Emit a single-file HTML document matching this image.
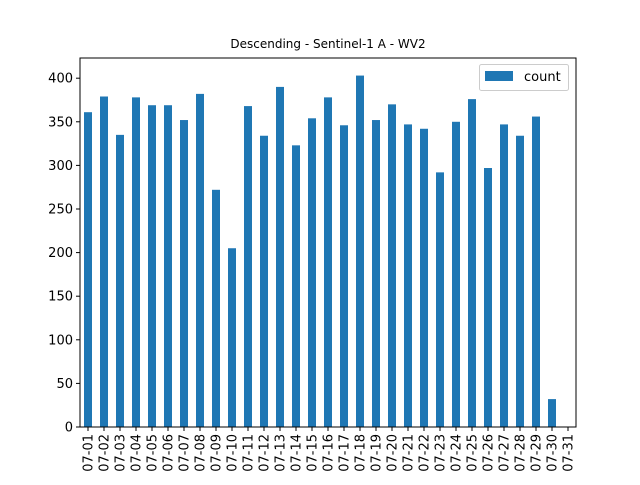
<!DOCTYPE html>
<html><head><meta charset="utf-8"><style>
body{margin:0;background:#fff}
svg{font-family:"DejaVu Sans","Liberation Sans",sans-serif}
</style></head><body>
<svg id="chart" width="640" height="480">
<text x="328" y="48" font-size="12" text-anchor="middle">Descending - Sentinel-1 A - WV2</text>
<g id="bars"></g>
<g id="yticks"></g>
<g id="xticks"></g>
<rect x="80" y="58" width="496" height="369" fill="none" stroke="#000" stroke-width="1"/>
<g>
<rect x="479.5" y="64.5" width="89" height="26" rx="2" fill="#fff" stroke="#ccc"/>
<rect x="485" y="71" width="28" height="10" fill="#1f77b4"/>
<text x="524" y="81" font-size="13">count</text>
</g>
</svg>
<script>
const categories=["07-01","07-02","07-03","07-04","07-05","07-06","07-07","07-08","07-09","07-10","07-11","07-12","07-13","07-14","07-15","07-16","07-17","07-18","07-19","07-20","07-21","07-22","07-23","07-24","07-25","07-26","07-27","07-28","07-29","07-30","07-31"];
const counts=[361,379,335,378,369,369,352,382,272,205,368,334,390,323,354,378,346,403,352,370,347,342,292,350,376,297,347,334,356,32,0];
const yTicks=[0,50,100,150,200,250,300,350,400];
const NS="http://www.w3.org/2000/svg";
const L=80,R=576,T=58,B=427;
const ymax=Math.max(...counts)*1.05;
const y=v=>B-(v/ymax)*(B-T);
const step=(R-L)/categories.length;
const x=i=>L+step*(i+0.5);
const bars=document.getElementById('bars'),yt=document.getElementById('yticks'),xt=document.getElementById('xticks');
counts.forEach((v,i)=>{
 const r=document.createElementNS(NS,'rect');
 r.setAttribute('x',x(i)-step/4);r.setAttribute('width',step/2);
 r.setAttribute('y',y(v));r.setAttribute('height',B-y(v));r.setAttribute('fill','#1f77b4');
 
 
 bars.appendChild(r);
});
yTicks.forEach(t=>{
 const l=document.createElementNS(NS,'line');
 l.setAttribute('x1',L-4);l.setAttribute('x2',L);l.setAttribute('y1',y(t));l.setAttribute('y2',y(t));l.setAttribute('stroke','#000');
 
 
 yt.appendChild(l);
 const s=document.createElementNS(NS,'text');
 s.setAttribute('x',L-7);s.setAttribute('y',y(t)+4.5);s.setAttribute('font-size','13');s.setAttribute('text-anchor','end');
 s.textContent=t;
 
 
 yt.appendChild(s);
});
categories.forEach((c,i)=>{
 const l=document.createElementNS(NS,'line');
 l.setAttribute('x1',x(i));l.setAttribute('x2',x(i));l.setAttribute('y1',B);l.setAttribute('y2',B+4);l.setAttribute('stroke','#000');
 
 
 xt.appendChild(l);
 const s=document.createElementNS(NS,'text');
 s.setAttribute('font-size','13');s.setAttribute('text-anchor','end');
 s.setAttribute('transform','translate('+(x(i)+4.5)+','+(B+7)+') rotate(-90)');
 s.textContent=c;
 
 
 xt.appendChild(s);
});
</script>
</body></html>
